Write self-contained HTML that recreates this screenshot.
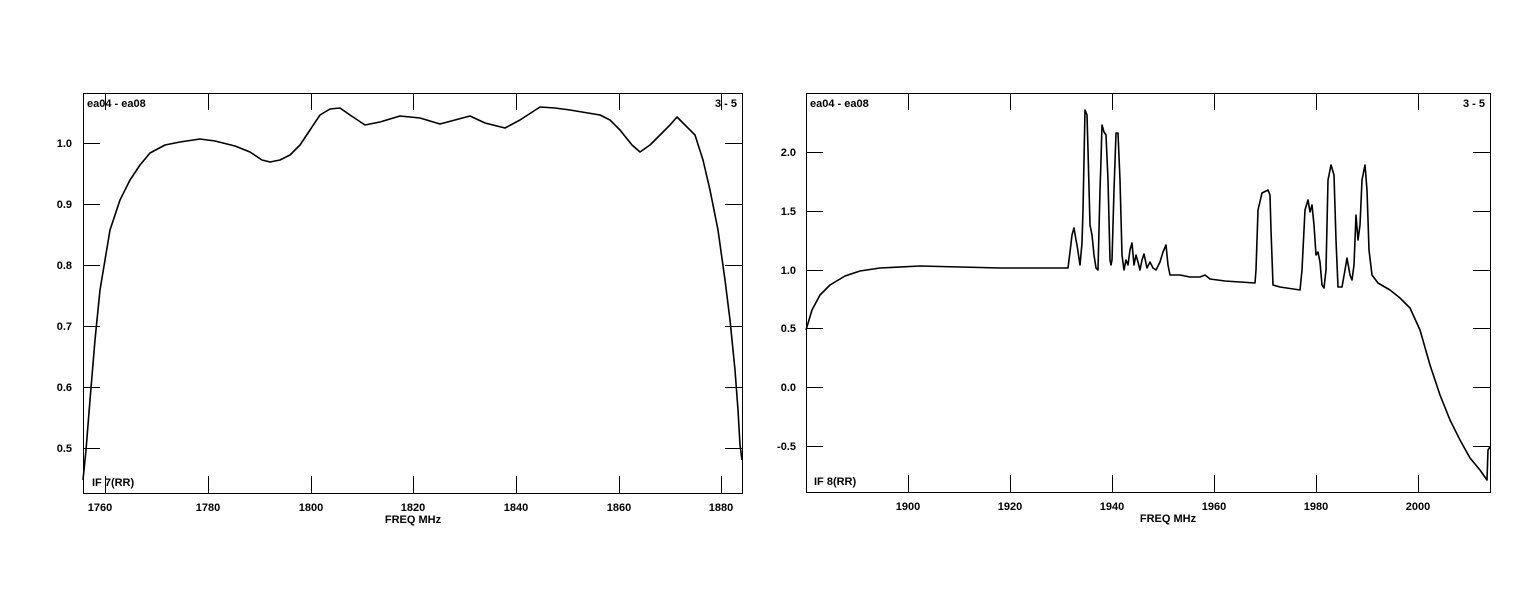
<!DOCTYPE html>
<html><head><meta charset="utf-8"><style>
html,body{margin:0;padding:0;background:#fff;}
svg{display:block;}
text{font-family:"Liberation Sans",Arial,sans-serif;font-weight:bold;font-size:11px;fill:#000;}
</style></head><body>
<svg width="1537" height="612" viewBox="0 0 1537 612">
<g stroke="#000" stroke-width="1" fill="none" shape-rendering="crispEdges">
<rect x="83.5" y="93.5" width="659" height="400"/>
<rect x="806.5" y="93.5" width="684" height="399"/>
<!-- left y ticks -->
<path d="M83 143.5h17M725 143.5h17M83 204.5h17M725 204.5h17M83 265.5h17M725 265.5h17M83 326.5h17M725 326.5h17M83 387.5h17M725 387.5h17M83 448.5h17M725 448.5h17"/>
<!-- left x ticks -->
<path d="M105.5 493v-17M105.5 93v17M208.5 493v-17M208.5 93v17M311.5 493v-17M311.5 93v17M413.5 493v-17M413.5 93v17M516.5 493v-17M516.5 93v17M619.5 493v-17M619.5 93v17M721.5 493v-17M721.5 93v17"/>
<!-- right y ticks -->
<path d="M806 152.5h17M1473 152.5h17M806 211.5h17M1473 211.5h17M806 270.5h17M1473 270.5h17M806 328.5h17M1473 328.5h17M806 387.5h17M1473 387.5h17M806 446.5h17M1473 446.5h17"/>
<!-- right x ticks -->
<path d="M908.5 492v-17M908.5 93v17M1010.5 492v-17M1010.5 93v17M1112.5 492v-17M1112.5 93v17M1214.5 492v-17M1214.5 93v17M1316.5 492v-17M1316.5 93v17M1418.5 492v-17M1418.5 93v17"/>
</g>
<g stroke="#000" stroke-width="1.6" fill="none" stroke-linejoin="round">
<polyline points="83,480 86,450 90,400 95,340 100,290 110,230 120,200 130,180 140,165 150,153 165,145 180,142 200,139 215,141 235,146 250,152 262,160 270,162 280,160 290,155 300,145 310,130 320,115 330,109 340,108 350,115 365,125 380,122 400,116 420,118 440,124 455,120 470,116 485,123 505,128 520,120 540,107 555,108 570,110 600,115 610,120 620,130 632,145 640,152 650,145 660,135 670,125 677,117 685,125 695,135 703,160 710,190 718,230 725,280 730,320 735,370 738,410 740,445 742,460"/>
<polyline points="806,330 812,310 820,295 830,285 845,276 860,271 880,268 920,266 960,267 1000,268 1040,268 1068,268 1070,252 1072,235 1074,228 1076,240 1077,245 1080,265 1082,243 1083,210 1085,110 1087,115 1088,150 1090,225 1092,235 1094,255 1096,268 1098,270 1100,190 1101,160 1102,125 1104,132 1106,135 1108,180 1110,260 1111,265 1112,260 1114,190 1116,133 1118,133 1120,180 1122,255 1124,270 1126,260 1128,265 1130,250 1132,243 1134,265 1136,255 1138,262 1140,270 1142,260 1144,254 1147,268 1150,262 1153,268 1156,270 1160,262 1163,252 1166,245 1168,265 1170,275 1180,275 1190,277 1200,277 1205,275 1210,279 1225,281 1255,283 1256,270 1258,210 1262,193 1268,190 1270,195 1271,230 1273,285 1280,287 1300,290 1302,270 1305,210 1308,200 1310,212 1312,205 1314,225 1316,255 1318,252 1320,262 1322,285 1324,288 1326,270 1328,180 1331,165 1334,175 1336,240 1338,287 1342,287 1345,270 1347,258 1350,275 1352,280 1354,265 1356,215 1358,240 1360,225 1362,180 1365,165 1367,190 1369,250 1372,275 1378,283 1390,290 1400,298 1410,308 1420,330 1430,365 1440,395 1450,420 1460,440 1470,458 1480,470 1487,480 1488,450 1490,447"/>
</g>
<!-- left labels -->
<text x="87" y="107">ea04 - ea08</text>
<text x="737" y="107" text-anchor="end">3 - 5</text>
<text x="92" y="486">IF 7(RR)</text>
<g text-anchor="end">
<text x="72" y="147">1.0</text><text x="72" y="208">0.9</text><text x="72" y="269">0.8</text><text x="72" y="330">0.7</text><text x="72" y="391">0.6</text><text x="72" y="452">0.5</text>
</g>
<g text-anchor="middle">
<text x="100" y="511">1760</text><text x="208" y="511">1780</text><text x="311" y="511">1800</text><text x="413" y="511">1820</text><text x="516" y="511">1840</text><text x="619" y="511">1860</text><text x="721" y="511">1880</text>
<text x="413" y="523">FREQ MHz</text>
</g>
<!-- right labels -->
<text x="810" y="107">ea04 - ea08</text>
<text x="1485" y="107" text-anchor="end">3 - 5</text>
<text x="814" y="485">IF 8(RR)</text>
<g text-anchor="end">
<text x="796" y="156">2.0</text><text x="796" y="215">1.5</text><text x="796" y="274">1.0</text><text x="796" y="332">0.5</text><text x="796" y="391">0.0</text><text x="796" y="450">-0.5</text>
</g>
<g text-anchor="middle">
<text x="908" y="510">1900</text><text x="1010" y="510">1920</text><text x="1112" y="510">1940</text><text x="1214" y="510">1960</text><text x="1316" y="510">1980</text><text x="1418" y="510">2000</text>
<text x="1168" y="522">FREQ MHz</text>
</g>
</svg>
</body></html>
